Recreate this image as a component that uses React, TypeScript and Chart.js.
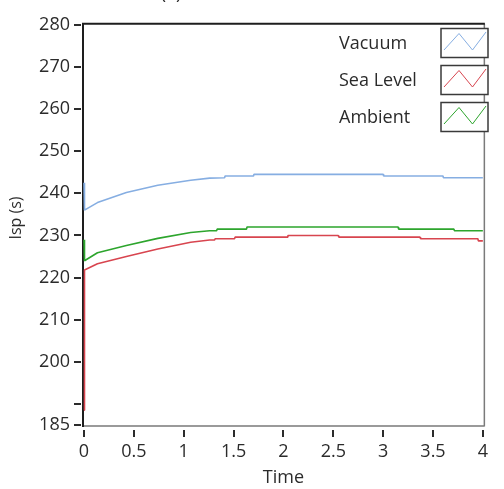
import React, { useEffect, useRef } from "react";
import { Chart, registerables } from "chart.js";

Chart.register(...registerables);

const seriesLabels = ["Vacuum", "Sea Level", "Ambient"];
const seriesColors = ["#86aee2", "#d8454f", "#2da52d"];

const vacuumTime = [0, 0.005, 0.135, 0.425, 0.74, 1.07, 1.26, 1.41, 1.415, 1.7, 1.705, 3.0, 3.005, 3.6, 3.605, 4.0];
const vacuumIsp = [242.5, 236.0, 237.8, 240.2, 241.9, 243.1, 243.6, 243.7, 244.1, 244.1, 244.5, 244.5, 244.1, 244.1, 243.7, 243.7];

const seaLevelTime = [0, 0.005, 0.135, 0.425, 0.74, 1.07, 1.26, 1.31, 1.315, 1.51, 1.515, 2.04, 2.045, 2.55, 2.555, 3.37, 3.375, 3.95, 3.955, 4.0];
const seaLevelIsp = [188.5, 221.8, 223.3, 225.0, 226.8, 228.4, 228.9, 228.9, 229.2, 229.2, 229.6, 229.6, 230.0, 230.0, 229.6, 229.6, 229.2, 229.2, 228.7, 228.7];

const ambientTime = [0, 0.005, 0.135, 0.425, 0.74, 1.07, 1.26, 1.33, 1.335, 1.63, 1.635, 3.15, 3.155, 3.71, 3.715, 4.0];
const ambientIsp = [229.0, 224.0, 225.9, 227.6, 229.3, 230.7, 231.1, 231.1, 231.5, 231.5, 232.0, 232.0, 231.5, 231.5, 231.1, 231.1];

const xTicks = [0, 0.5, 1, 1.5, 2, 2.5, 3, 3.5, 4];
const yTicks = [185, 190, 200, 210, 220, 230, 240, 250, 260, 270, 280];
const yTickLabels = ["185", "", "200", "210", "220", "230", "240", "250", "260", "270", "280"];
const yTitle = "Isp (s)";
const xTitle = "Time";
const panelTitle = "(a)";

const FONT = "'Open Sans', 'DejaVu Sans', sans-serif";
const TEXT = "#2b2b2b";

const toPoints = (t: number[], v: number[]) => t.map((x, i) => ({ x, y: v[i] }));

const framePlugin = {
  id: "frame",
  beforeDatasetsDraw(chart: any) {
    const { ctx, chartArea } = chart;
    const { left, right, top, bottom } = chartArea;
    ctx.save();
    ctx.lineCap = "butt";
    ctx.strokeStyle = "#7a7a7a";
    ctx.lineWidth = 1.5;
    ctx.beginPath();
    ctx.moveTo(left - 2, bottom + 1);
    ctx.lineTo(right + 1.5, bottom + 1);
    ctx.moveTo(right + 1.5, top - 1);
    ctx.lineTo(right + 1.5, bottom + 1.5);
    ctx.stroke();
    ctx.strokeStyle = "#1e1e1e";
    ctx.lineWidth = 2;
    ctx.beginPath();
    ctx.moveTo(left - 1, top - 1);
    ctx.lineTo(right + 2, top - 1);
    ctx.moveTo(left - 1, top - 2);
    ctx.lineTo(left - 1, bottom + 2);
    ctx.stroke();
    const xs = chart.scales.x;
    const ys = chart.scales.y;
    ctx.strokeStyle = "#2b2b2b";
    ctx.lineWidth = 2;
    ctx.beginPath();
    xs.ticks.forEach((t: any) => {
      const px = Math.round(xs.getPixelForValue(t.value));
      ctx.moveTo(px, bottom + 5);
      ctx.lineTo(px, bottom + 12);
    });
    ys.ticks.forEach((t: any) => {
      const py = Math.round(ys.getPixelForValue(t.value));
      ctx.moveTo(left - 10, py);
      ctx.lineTo(left - 3, py);
    });
    ctx.stroke();
    ctx.restore();
  },
  afterDraw(chart: any) {
    const { ctx } = chart;
    ctx.save();
    ctx.fillStyle = TEXT;
    ctx.font = `18px ${FONT}`;
    ctx.textAlign = "center";
    ctx.textBaseline = "alphabetic";
    ctx.fillText(panelTitle, 171, -1);
    ctx.save();
    ctx.translate(16, 218);
    ctx.rotate(-Math.PI / 2);
    ctx.font = `16px ${FONT}`;
    ctx.textAlign = "center";
    ctx.textBaseline = "middle";
    ctx.fillText(yTitle, 0, 0);
    ctx.restore();
    const ds = chart.data.datasets;
    ds.forEach((d: any, i: number) => {
      const cy = 43.5 + i * 37;
      ctx.fillStyle = TEXT;
      ctx.font = `18px ${FONT}`;
      ctx.textAlign = "left";
      ctx.textBaseline = "middle";
      ctx.fillText(d.label, 339, cy);
      const bx = 441, by = cy - 15, bw = 47, bh = 29;
      ctx.fillStyle = "#ffffff";
      ctx.fillRect(bx, by, bw, bh);
      ctx.strokeStyle = "#3a3a3a";
      ctx.lineWidth = 1.5;
      ctx.strokeRect(bx, by, bw, bh);
      ctx.strokeStyle = d.borderColor;
      ctx.lineWidth = 1;
      ctx.beginPath();
      ctx.moveTo(bx + 3, by + 21.5);
      ctx.lineTo(bx + 18, by + 5);
      ctx.lineTo(bx + 31.5, by + 21.5);
      ctx.lineTo(bx + 45, by + 3.5);
      ctx.stroke();
    });
    ctx.restore();
  },
};

export default function App() {
  const ref = useRef<HTMLCanvasElement | null>(null);
  useEffect(() => {
    document.body.style.margin = "0";
    const canvas = ref.current;
    if (!canvas) return;
    const seriesTimes = [vacuumTime, seaLevelTime, ambientTime];
    const seriesValues = [vacuumIsp, seaLevelIsp, ambientIsp];
    const chart = new Chart(canvas, {
      type: "line",
      data: {
        datasets: seriesLabels.map((label, i) => ({
          label,
          data: toPoints(seriesTimes[i], seriesValues[i]),
          borderColor: seriesColors[i],
          backgroundColor: seriesColors[i],
          borderWidth: 1.6,
          borderJoinStyle: "bevel" as const,
          pointRadius: 0,
          tension: 0,
          fill: false,
          clip: 4,
        })),
      },
      options: {
        animation: false,
        responsive: false,
        devicePixelRatio: 1,
        events: [],
        layout: { padding: { top: 22, right: 6, left: 0, bottom: 0 } },
        plugins: {
          legend: { display: false },
          tooltip: { enabled: false },
          title: { display: false },
        },
        scales: {
          x: {
            type: "linear",
            min: 0,
            max: 4,
            afterBuildTicks: (s: any) => {
              s.ticks = xTicks.map((v) => ({ value: v }));
            },
            afterFit: (s: any) => {
              s.height = 64;
            },
            grid: { display: false, drawTicks: false },
            border: { display: false },
            ticks: {
              color: TEXT,
              font: { family: FONT, size: 18 },
              padding: 16,
              maxRotation: 0,
              autoSkip: false,
              callback: (v: any) => String(v),
            },
            title: {
              display: true,
              text: xTitle,
              color: TEXT,
              font: { family: FONT, size: 18 },
              padding: { top: 0, bottom: 0 },
            },
          },
          y: {
            type: "linear",
            min: 185,
            max: 280,
            afterBuildTicks: (s: any) => {
              s.ticks = yTicks.map((v) => ({ value: v }));
            },
            afterFit: (s: any) => {
              s.width = 84;
            },
            grid: { display: false, drawTicks: false },
            border: { display: false },
            ticks: {
              color: TEXT,
              font: { family: FONT, size: 18 },
              padding: 14,
              autoSkip: false,
              callback: (v: any) => {
                const idx = yTicks.indexOf(Number(v));
                return idx >= 0 ? yTickLabels[idx] : "";
              },
            },
            title: { display: false },
          },
        },
      },
      plugins: [framePlugin],
    });
    return () => chart.destroy();
  }, []);
  return <canvas ref={ref} width={504} height={489} style={{ display: "block" }} />;
}
